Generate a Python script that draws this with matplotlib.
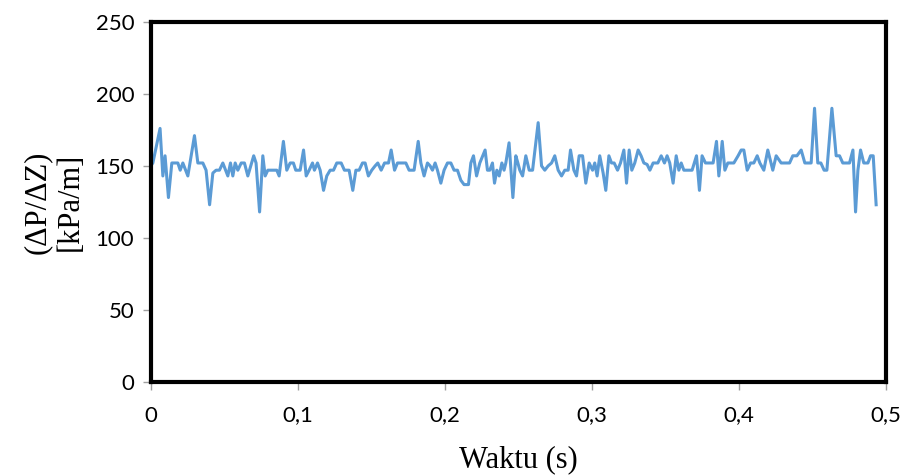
import matplotlib
matplotlib.use("Agg")
import matplotlib.pyplot as plt
from matplotlib.ticker import FuncFormatter

# data
t = [0.000, 0.0014, 0.0063, 0.0082, 0.0097, 0.0120, 0.0143, 0.0184, 0.0200, 0.0218,
     0.0252, 0.0297, 0.0320, 0.0354, 0.0376, 0.0400, 0.0422, 0.0444, 0.0467, 0.0490,
     0.0524, 0.0542, 0.0558, 0.0574, 0.0592, 0.0615, 0.0637, 0.0660, 0.0700, 0.0716,
     0.0740, 0.0762, 0.0778, 0.0796, 0.0823, 0.0857, 0.0873, 0.0902, 0.0925, 0.0948,
     0.0970, 0.0986, 0.1016, 0.1039, 0.1057, 0.1077, 0.1100, 0.1113, 0.1134, 0.1152,
     0.1175, 0.1197, 0.1220, 0.1243, 0.1265, 0.1295, 0.1317, 0.1349, 0.1374, 0.1395,
     0.1417, 0.1440, 0.1458, 0.1480, 0.1503, 0.1526, 0.1544, 0.1567, 0.1590, 0.1617,
     0.1635, 0.1658, 0.1678, 0.1735, 0.1757, 0.1791, 0.1819, 0.1837, 0.1859, 0.1882,
     0.1900, 0.1916, 0.1934, 0.1950, 0.1973, 0.1995, 0.2018, 0.2041, 0.2063, 0.2086,
     0.2109, 0.2131, 0.2161, 0.2177, 0.2195, 0.2216, 0.2238, 0.2274, 0.2290, 0.2306,
     0.2324, 0.2338, 0.2354, 0.2370, 0.2388, 0.2403, 0.2415, 0.2437, 0.2463, 0.2483,
     0.2497, 0.2510, 0.2529, 0.2551, 0.2574, 0.2597, 0.2635, 0.2658, 0.2680, 0.2703,
     0.2726, 0.2748, 0.2771, 0.2794, 0.2816, 0.2839, 0.2855, 0.2878, 0.2896, 0.2914,
     0.2937, 0.2959, 0.2982, 0.3005, 0.3020, 0.3036, 0.3054, 0.3077, 0.3095, 0.3116,
     0.3134, 0.3152, 0.3175, 0.3195, 0.3218, 0.3236, 0.3254, 0.3272, 0.3292, 0.3315,
     0.3335, 0.3354, 0.3376, 0.3395, 0.3417, 0.3449, 0.3472, 0.3494, 0.3512, 0.3530,
     0.3553, 0.3574, 0.3592, 0.3608, 0.3626, 0.3660, 0.3682, 0.3712, 0.3732, 0.3750,
     0.3773, 0.3796, 0.3825, 0.3848, 0.3864, 0.3887, 0.3905, 0.3925, 0.3948, 0.3966,
     0.3995, 0.4016, 0.4034, 0.4057, 0.4080, 0.4102, 0.4125, 0.4143, 0.4170, 0.4197,
     0.4231, 0.4254, 0.4288, 0.4322, 0.4345, 0.4367, 0.4395, 0.4424, 0.4449, 0.4492,
     0.4515, 0.4537, 0.4558, 0.4580, 0.4599, 0.4633, 0.4662, 0.4685, 0.4707, 0.4753,
     0.4776, 0.4794, 0.4810, 0.4828, 0.4850, 0.4878, 0.4896, 0.4914, 0.4934]

dpdz = [150, 152, 176, 143, 157, 128, 152, 152, 147, 152,
        143, 171, 152, 152, 147, 123, 145, 147, 147, 152,
        143, 152, 143, 152, 147, 152, 152, 143, 157, 152,
        118, 157, 143, 147, 147, 147, 143, 167, 147, 152,
        152, 147, 147, 161, 143, 147, 152, 147, 152, 147,
        133, 143, 147, 147, 152, 152, 147, 147, 133, 147,
        147, 152, 152, 143, 147, 150, 152, 147, 152, 152,
        161, 147, 152, 152, 147, 147, 167, 152, 143, 152,
        150, 147, 152, 147, 138, 147, 152, 152, 147, 147,
        140, 137, 137, 152, 157, 143, 152, 161, 147, 147,
        152, 138, 147, 143, 152, 147, 152, 166, 128, 157,
        152, 147, 143, 157, 147, 147, 180, 150, 147, 150,
        152, 157, 147, 143, 147, 147, 161, 147, 143, 157,
        157, 138, 152, 147, 152, 143, 157, 145, 133, 157,
        152, 152, 147, 152, 161, 138, 161, 147, 152, 161,
        157, 152, 151, 147, 152, 152, 157, 152, 157, 152,
        138, 157, 147, 152, 147, 147, 147, 157, 133, 157,
        152, 152, 152, 167, 143, 167, 147, 152, 152, 152,
        157, 161, 161, 147, 152, 152, 157, 152, 147, 161,
        147, 157, 152, 152, 152, 157, 157, 161, 152, 152,
        190, 152, 152, 147, 147, 190, 157, 157, 152, 152,
        161, 118, 147, 161, 152, 152, 157, 157, 123]

xticks = [0, 0.1, 0.2, 0.3, 0.4, 0.5]
yticks = [0, 50, 100, 150, 200, 250]

# layout
fig = plt.figure(figsize=(9.03, 4.75), dpi=100)
ax = fig.add_axes([0.167, 0.196, 0.814, 0.758])

# plot
ax.plot(t, dpdz, color="#5B9BD5", linewidth=2.2, solid_joinstyle="round")

# axes settings
ax.set_xlim(0, 0.5)
ax.set_ylim(0, 250)
ax.set_xticks(xticks)
ax.set_yticks(yticks)
ax.xaxis.set_major_formatter(FuncFormatter(lambda v, p: ("%g" % round(v, 1)).replace(".", ",")))

for s in ax.spines.values():
    s.set_color("black")
    s.set_linewidth(3)

ax.tick_params(axis="both", direction="out", length=6, width=1, color="#A0A0A0",
               labelsize=16)
ax.tick_params(axis="x", pad=11)
ax.tick_params(axis="y", pad=6)
for lab in ax.get_xticklabels() + ax.get_yticklabels():
    lab.set_fontfamily("Lato")

ax.set_xlabel("Waktu (s)", fontfamily="Liberation Serif", fontsize=22, labelpad=14)
ax.set_ylabel("(ΔP/ΔZ)\n[kPa/m]", fontfamily="Liberation Serif", fontsize=22,
              labelpad=8, linespacing=1.15)

# save
plt.savefig("out.png", dpi=100)
